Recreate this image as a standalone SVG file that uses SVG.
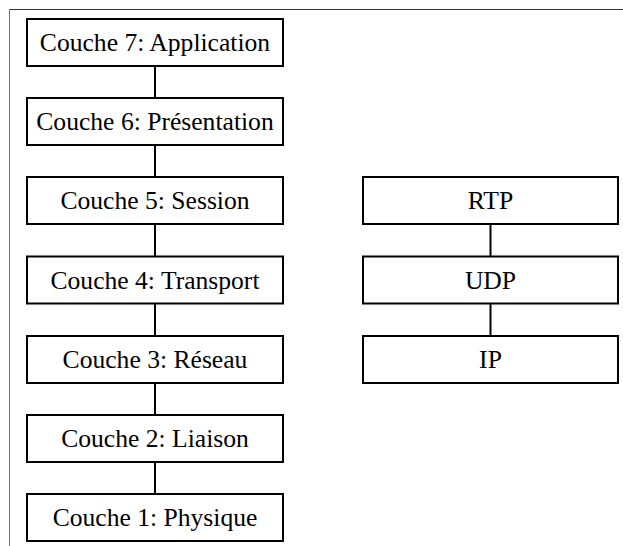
<svg xmlns="http://www.w3.org/2000/svg" width="623" height="546" viewBox="0 0 623 546">
<style>
.box{fill:#fff;stroke:#000;stroke-width:2}
.lbl{font-family:"Liberation Serif","Times New Roman",serif;font-size:25.6px;fill:#000;text-anchor:middle}
.con{stroke:#000;stroke-width:2;fill:none}
</style>
<rect width="623" height="546" fill="#fff"/>
<g id="frame">
<line x1="9.5" y1="9.5" x2="623" y2="9.5" stroke="#333" stroke-width="1"/>
<line x1="9.5" y1="9.5" x2="9.5" y2="546" stroke="#777" stroke-width="1"/>
</g>
<g id="connectors">
<line class="con" x1="155" y1="65" x2="155" y2="98"/>
<line class="con" x1="155" y1="145" x2="155" y2="177"/>
<line class="con" x1="155" y1="224" x2="155" y2="256"/>
<line class="con" x1="155" y1="304" x2="155" y2="336"/>
<line class="con" x1="155" y1="383" x2="155" y2="415"/>
<line class="con" x1="155" y1="462" x2="155" y2="494"/>
<line class="con" x1="490.5" y1="224" x2="490.5" y2="256"/>
<line class="con" x1="490.5" y1="304" x2="490.5" y2="336"/>
</g>
<g id="n7"><rect class="box" x="27" y="19" width="256" height="47"/><text class="lbl" x="155" y="51">Couche 7: Application</text></g>
<g id="n6"><rect class="box" x="27" y="98" width="256" height="47"/><text class="lbl" x="155" y="130">Couche 6: Présentation</text></g>
<g id="n5"><rect class="box" x="27" y="177" width="256" height="47"/><text class="lbl" x="155" y="209">Couche 5: Session</text></g>
<g id="n4"><rect class="box" x="27" y="256.5" width="256" height="47"/><text class="lbl" x="155" y="288.5">Couche 4: Transport</text></g>
<g id="n3"><rect class="box" x="27" y="336" width="256" height="47"/><text class="lbl" x="155" y="368">Couche 3: Réseau</text></g>
<g id="n2"><rect class="box" x="27" y="415" width="256" height="47"/><text class="lbl" x="155" y="447">Couche 2: Liaison</text></g>
<g id="n1"><rect class="box" x="27" y="494" width="256" height="47"/><text class="lbl" x="155" y="526">Couche 1: Physique</text></g>
<g id="rtp"><rect class="box" x="363" y="177" width="255" height="47"/><text class="lbl" x="490.5" y="209">RTP</text></g>
<g id="udp"><rect class="box" x="363" y="256.5" width="255" height="47"/><text class="lbl" x="490.5" y="288.5">UDP</text></g>
<g id="ip"><rect class="box" x="363" y="336" width="255" height="47"/><text class="lbl" x="490.5" y="368">IP</text></g>
</svg>
